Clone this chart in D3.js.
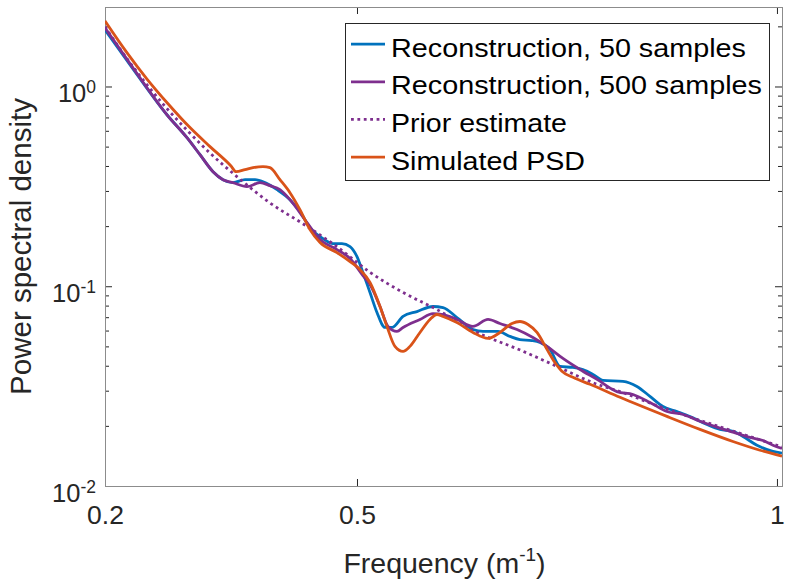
<!DOCTYPE html>
<html><head><meta charset="utf-8">
<script src="https://cdn.jsdelivr.net/npm/d3@7"></script>
<style>
body{margin:0;background:#fff}
svg{display:block}
text{font-family:"Liberation Sans", Arial, Helvetica, sans-serif}
</style>
</head><body>
<svg id="c" width="785" height="579"></svg>
<script>
// ---------------- data ----------------
const xTickValues = [0.2, 0.5, 1];
const xTickLabels = ["0.2", "0.5", "1"];
const yTickValues = [0.01, 0.1, 1];
const yTickExponents = ["-2", "-1", "0"];

const seriesNames = ["Reconstruction, 50 samples", "Reconstruction, 500 samples", "Prior estimate", "Simulated PSD"];
const seriesColors = ["#0072BD", "#7E2F8E", "#7E2F8E", "#D95319"];
const seriesDashed = [false, false, true, false];

const freq50 = [0.2,0.2333,0.2738,0.2976,0.3131,0.3286,0.3405,0.3524,0.3667,0.3786,0.3905,0.4048,0.4202,0.4321,0.444,0.4595,0.4714,0.4821,0.4917,0.5,0.5071,0.5155,0.5238,0.5333,0.5417,0.5548,0.5714,0.5905,0.6024,0.619,0.6381,0.65,0.6679,0.6821,0.694,0.7083,0.7179,0.7298,0.7417,0.7571,0.769,0.781,0.7929,0.8167,0.8333,0.8488,0.8643,0.881,0.8964,0.9167,0.9321,0.9476,0.9595,0.9762,0.9952,1.006];
const psd50 = [1.921,1.226,0.7219,0.554,0.4555,0.3745,0.3416,0.3301,0.3416,0.3416,0.3301,0.3045,0.2713,0.2363,0.1966,0.1732,0.1635,0.1635,0.158,0.1408,0.1171,0.093,0.0739,0.0622,0.0622,0.0706,0.0747,0.0792,0.0782,0.0697,0.0607,0.0594,0.0594,0.0561,0.0541,0.0535,0.0523,0.0483,0.0397,0.0392,0.0383,0.0362,0.0338,0.0334,0.0315,0.0281,0.025,0.0236,0.0223,0.0203,0.0192,0.0188,0.0177,0.016,0.0149,0.0146];

const freq500 = [0.2,0.2333,0.2738,0.2976,0.3131,0.3286,0.3405,0.3524,0.369,0.3845,0.3964,0.4083,0.4202,0.4405,0.456,0.4762,0.4917,0.5071,0.5155,0.5274,0.5369,0.5476,0.5548,0.575,0.5905,0.6024,0.619,0.6381,0.656,0.6702,0.6905,0.7095,0.7262,0.7452,0.7655,0.7857,0.8095,0.8286,0.8488,0.869,0.8881,0.9083,0.9286,0.9476,0.9679,0.9833,0.9952,1.006];
const psd500 = [1.966,1.24,0.7219,0.554,0.4555,0.3745,0.3416,0.3301,0.3152,0.3301,0.3188,0.3045,0.2713,0.2083,0.1712,0.1526,0.1376,0.1131,0.102,0.0792,0.0629,0.0594,0.0622,0.0682,0.073,0.0722,0.0682,0.0629,0.0682,0.0651,0.0607,0.0554,0.05,0.0435,0.0383,0.0342,0.0297,0.0287,0.0262,0.0236,0.0228,0.0211,0.0197,0.0186,0.0175,0.0169,0.016,0.0154];

const freqPrior = [0.2,0.225,0.25,0.275,0.3,0.325,0.357,0.396,0.436,0.476,0.516,0.555,0.595,0.638,0.698,0.733,0.786,0.813,0.86,0.9,0.95,1.006];
const psdPrior = [1.99,1.40,1.02,0.765,0.59,0.464,0.354,0.262,0.205,0.158,0.117,0.093,0.0765,0.0601,0.0472,0.0406,0.0323,0.0297,0.025,0.0219,0.0187,0.0157];

const freqSim = [0.2,0.225,0.25,0.275,0.3,0.325,0.35,0.356,0.3667,0.3762,0.3881,0.3964,0.4083,0.4202,0.4321,0.444,0.456,0.4762,0.4917,0.5036,0.5155,0.5274,0.5357,0.5452,0.5548,0.5631,0.575,0.5869,0.5952,0.6024,0.619,0.6381,0.656,0.6702,0.6845,0.694,0.7036,0.7143,0.7262,0.7357,0.744,0.7571,0.7774,0.8131,0.869,0.9083,0.9476,0.9798,1.006];
const psdSim = [2.13,1.50,1.09,0.82,0.63,0.50,0.40,0.3745,0.3834,0.3923,0.3968,0.3923,0.3416,0.2941,0.2417,0.1921,0.1654,0.1474,0.1329,0.1212,0.1044,0.0792,0.0629,0.05,0.0472,0.05,0.0587,0.0682,0.0722,0.0706,0.0658,0.0587,0.0548,0.0587,0.0651,0.0666,0.0643,0.0587,0.0483,0.0415,0.0375,0.035,0.0323,0.0278,0.0223,0.0192,0.0167,0.0151,0.0141];

const seriesFreqs = [freq50, freq500, freqPrior, freqSim];
const seriesValues = [psd50, psd500, psdPrior, psdSim];

// ---------------- layout ----------------
const L = 105, R = 782, T = 7, B = 486;
const svg = d3.select("#c");
svg.append("rect").attr("width", 785).attr("height", 579).attr("fill", "#fff");

const x = d3.scaleLinear().domain([0.2, 1.006]).range([L, R]);
const y = d3.scaleLog().domain([0.01, 2.5]).range([B, T]);

svg.append("clipPath").attr("id", "clip").append("rect")
  .attr("x", L).attr("y", T).attr("width", R - L).attr("height", B - T);

const minorY = [];
for (let d = -2; d <= 0; d++) for (let k = 2; k <= 9; k++) {
  const v = k * Math.pow(10, d);
  if (v <= 2.5) minorY.push(+v.toPrecision(3));
}

const axisColor = "#8c8c8c", tickColor = "#262626", textColor = "#262626";

function styleAxis(g) {
  g.select(".domain").remove();
  g.selectAll(".tick line").attr("stroke", tickColor).attr("stroke-width", 1);
  g.selectAll(".tick text").attr("fill", textColor).attr("font-size", 26.5)
    .attr("font-family", '"Liberation Sans", Arial, sans-serif');
}

svg.append("g").attr("transform", `translate(0,${B})`)
  .call(d3.axisBottom(x).tickValues(xTickValues).tickFormat((d, i) => xTickLabels[i]).tickSize(-7).tickPadding(19))
  .call(styleAxis);
svg.append("g").attr("transform", `translate(0,${T})`)
  .call(d3.axisTop(x).tickValues(xTickValues).tickFormat("").tickSize(-7))
  .call(styleAxis);
svg.append("g").attr("transform", `translate(${L},0)`)
  .call(d3.axisLeft(y).tickValues(yTickValues).tickFormat("").tickSize(-7))
  .call(styleAxis);
svg.append("g").attr("transform", `translate(${L},0)`)
  .call(d3.axisLeft(y).tickValues(minorY).tickFormat("").tickSize(-4))
  .call(styleAxis);
svg.append("g").attr("transform", `translate(${R},0)`)
  .call(d3.axisRight(y).tickValues(yTickValues).tickFormat("").tickSize(-7))
  .call(styleAxis);
svg.append("g").attr("transform", `translate(${R},0)`)
  .call(d3.axisRight(y).tickValues(minorY).tickFormat("").tickSize(-4))
  .call(styleAxis);

yTickValues.forEach((v, i) => {
  const t = svg.append("text")
    .attr("x", 96).attr("y", y(v) + 16)
    .attr("text-anchor", "end").attr("fill", textColor).attr("font-size", 25.5);
  t.append("tspan").text("10");
  t.append("tspan").attr("dy", -9).attr("font-size", 17.5).text(yTickExponents[i]);
});

svg.append("rect").attr("x", L + 0.5).attr("y", T + 0.5)
  .attr("width", R - L).attr("height", B - T)
  .attr("fill", "none").attr("stroke", axisColor).attr("stroke-width", 1);

const xl = svg.append("text").attr("x", (L + R) / 2 + 1).attr("y", 572.5)
  .attr("text-anchor", "middle").attr("fill", textColor).attr("font-size", 28.5);
xl.append("tspan").text("Frequency (m");
xl.append("tspan").attr("dy", -12).attr("font-size", 19).text("-1");
xl.append("tspan").attr("dy", 12).text(")");

svg.append("text")
  .attr("transform", `translate(31,${(T + B) / 2}) rotate(-90)`)
  .attr("text-anchor", "middle").attr("fill", textColor).attr("font-size", 29.5)
  .text("Power spectral density");

const line = d3.line()
  .x(d => x(d[0])).y(d => y(d[1]))
  .curve(d3.curveMonotoneX);

const plot = svg.append("g").attr("clip-path", "url(#clip)");
seriesNames.forEach((name, i) => {
  const pts = seriesFreqs[i].map((f, j) => [f, seriesValues[i][j]]);
  plot.append("path").datum(pts)
    .attr("d", line)
    .attr("fill", "none")
    .attr("stroke", seriesColors[i])
    .attr("stroke-width", 2.8)
    .attr("stroke-linejoin", "round")
    .attr("stroke-dasharray", seriesDashed[i] ? "2.8,3.6" : null);
});

// legend
const lg = svg.append("g");
lg.append("rect").attr("x", 345.5).attr("y", 23.5).attr("width", 424).attr("height", 157)
  .attr("fill", "#fff").attr("stroke", "#262626").attr("stroke-width", 1);
const rowBase = [56.7, 94.3, 131.9, 169.7];
const legendTextWidths = [355, 371, 176, 194];
seriesNames.forEach((name, i) => {
  const by = rowBase[i];
  lg.append("line").attr("x1", 351).attr("x2", 385)
    .attr("y1", by - 12.5).attr("y2", by - 12.5)
    .attr("stroke", seriesColors[i]).attr("stroke-width", 2.8)
    .attr("stroke-dasharray", seriesDashed[i] ? "2.8,3.6" : null);
  lg.append("text").attr("x", 391).attr("y", by)
    .attr("fill", "#000").attr("font-size", 25)
    .attr("textLength", legendTextWidths[i]).attr("lengthAdjust", "spacingAndGlyphs")
    .text(name);
});
</script>
</body></html>
